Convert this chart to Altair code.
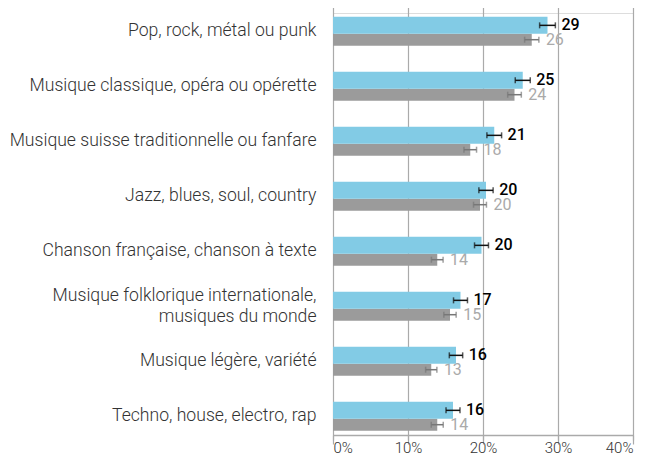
import altair as alt
import pandas as pd

categories = [
    "Pop, rock, métal ou punk",
    "Musique classique, opéra ou opérette",
    "Musique suisse traditionnelle ou fanfare",
    "Jazz, blues, soul, country",
    "Chanson française, chanson à texte",
    "Musique folklorique internationale,|musiques du monde",
    "Musique légère, variété",
    "Techno, house, electro, rap",
]
blue_values = [28.6, 25.3, 21.5, 20.4, 19.8, 17.0, 16.4, 16.0]
blue_err = [1.05, 1.0, 0.98, 0.95, 0.93, 0.93, 0.89, 0.93]
blue_labels = ["29", "25", "21", "20", "20", "17", "16", "16"]
grey_values = [26.5, 24.2, 18.3, 19.6, 13.9, 15.6, 13.1, 13.9]
grey_err = [0.95, 0.91, 0.84, 0.86, 0.78, 0.82, 0.75, 0.8]
grey_labels = ["26", "24", "18", "20", "14", "15", "13", "14"]

def frame(vals, errs, labels):
    return pd.DataFrame({
        "cat": categories,
        "value": vals,
        "lo": [v - e for v, e in zip(vals, errs)],
        "hi": [v + e for v, e in zip(vals, errs)],
        "label": labels,
    })

blue = frame(blue_values, blue_err, blue_labels)
grey = frame(grey_values, grey_err, grey_labels)

FONT = "Roboto"
yscale = alt.Scale(domain=categories, range=[-9.1, 430.9], paddingInner=0, paddingOuter=0)
xscale = alt.Scale(domain=[0, 40], nice=False)

yenc = alt.Y("cat:N", scale=yscale, sort=categories, title=None,
             axis=alt.Axis(domain=False, ticks=False, labelPadding=17,
                           labelExpr="split(datum.value, '|')",
                           labelOffset={"condition": {"test": "indexof(datum.value, '|') >= 0", "value": -10.5}, "value": 0},
                           labelFont=FONT, labelFontSize=17.6, labelFontWeight=300,
                           labelColor="#333333", labelLineHeight=21, labelLimit=330))
xenc = alt.X("value:Q", scale=xscale, title=None,
             axis=alt.Axis(values=[0, 10, 20, 30, 40], labelExpr="datum.value + '%'",
                           grid=True, gridColor="#aaaaaa", gridWidth=1.2,
                           domain=True, domainColor="#aaaaaa", domainWidth=1.5,
                           tickColor="#aaaaaa", tickSize=5, tickWidth=1.2,
                           labelFont=FONT, labelFontSize=15, labelFontWeight=300,
                           labelColor="#333333", labelPadding=0))

def series(df, color, off, h, ecol, tcol, tweight, dx):
    base = alt.Chart(df)
    ycat = alt.Y("cat:N", scale=yscale, sort=categories)
    bar = base.mark_bar(color=color, height=h, yOffset=off).encode(y=yenc, x=xenc)
    rule = base.mark_rule(color=ecol, strokeWidth=1.5, yOffset=off).encode(
        y=ycat, x="lo:Q", x2="hi:Q")
    t1 = base.mark_tick(color=ecol, orient="vertical", size=6, thickness=1.5, yOffset=off).encode(
        y=ycat, x="lo:Q")
    t2 = base.mark_tick(color=ecol, orient="vertical", size=6, thickness=1.5, yOffset=off).encode(
        y=ycat, x="hi:Q")
    txt = base.mark_text(align="left", baseline="middle", dx=dx, yOffset=off, font=FONT,
                         fontSize=16, fontWeight=tweight, color=tcol).encode(
        y=ycat, x="hi:Q", text="label:N")
    return [bar, rule, t1, t2, txt]

layers = series(grey, "#9b9b9b", 8.3, 12, "#777777", "#aaaaaa", 400, 7) + \
         series(blue, "#82cbe5", -6.05, 17, "#111111", "#000000", 500, 6)

chart = alt.layer(*layers).properties(
    width=300, height=422,
    autosize=alt.AutoSizeParams(type="none"),
    padding={"left": 325, "top": 5, "right": 9, "bottom": 20},
).configure_view(
    fill="#efefef", stroke="#aaaaaa", strokeWidth=1.5
).configure(background="white")

chart.save("out.html", embed_options={"renderer": "svg", "actions": False})
